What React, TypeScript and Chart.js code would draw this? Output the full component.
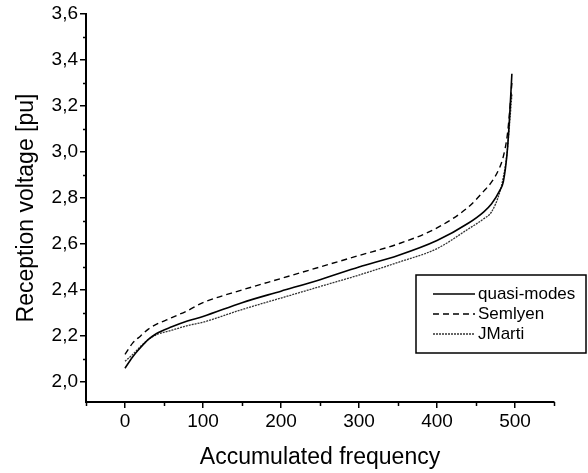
import React, { useEffect, useRef } from 'react';
import { Chart, registerables } from 'chart.js';

Chart.register(...registerables);

// ---- data ----
const frequency = [0, 10, 20, 30, 40, 60, 80, 100, 150, 200, 250, 300, 350, 400, 440, 460, 470, 480, 485, 490, 493, 496];
const quasiModes = [2.06, 2.11, 2.15, 2.185, 2.21, 2.24, 2.265, 2.285, 2.345, 2.395, 2.445, 2.5, 2.55, 2.615, 2.69, 2.74, 2.775, 2.83, 2.87, 3.0, 3.15, 3.34];
const semlyen = [2.12, 2.17, 2.2, 2.23, 2.25, 2.28, 2.31, 2.345, 2.4, 2.45, 2.5, 2.55, 2.6, 2.67, 2.76, 2.83, 2.87, 2.93, 2.98, 3.07, 3.17, 3.3];
const jmarti = [2.09, 2.12, 2.155, 2.185, 2.205, 2.225, 2.245, 2.26, 2.315, 2.365, 2.415, 2.465, 2.52, 2.58, 2.665, 2.71, 2.74, 2.82, 2.89, 3.0, 3.12, 3.25];

const seriesLabels = ['quasi-modes', 'Semlyen', 'JMarti'];
const yTickValues = [2.0, 2.2, 2.4, 2.6, 2.8, 3.0, 3.2, 3.4, 3.6];
const yMinorTicks = [2.1, 2.3, 2.5, 2.7, 2.9, 3.1, 3.3, 3.5];
const xTickValues = [0, 100, 200, 300, 400, 500];
const xMinorTicks = [-50, 50, 150, 250, 350, 450, 550];

const FONT = "'Liberation Sans', Arial, Helvetica, sans-serif";

const minorTickPlugin = {
  id: 'minorTicks',
  afterDraw(chart: any) {
    const ctx = chart.ctx;
    const xs = chart.scales.x;
    const ys = chart.scales.y;
    ctx.save();
    ctx.strokeStyle = '#000';
    ctx.lineWidth = 1.5;
    ctx.beginPath();
    yMinorTicks.forEach((v) => {
      const py = Math.round(ys.getPixelForValue(v)) + 0.5;
      ctx.moveTo(xs.left - 3, py);
      ctx.lineTo(xs.left, py);
    });
    xMinorTicks.forEach((v) => {
      const px = Math.round(xs.getPixelForValue(v)) + 0.5;
      ctx.moveTo(px, ys.bottom);
      ctx.lineTo(px, ys.bottom + 4);
    });
    ctx.stroke();
    ctx.restore();
  },
};

const boxLegendPlugin = {
  id: 'boxLegend',
  afterDraw(chart: any) {
    const ctx = chart.ctx;
    const left = 416;
    const top = 275;
    const width = 170;
    const height = 78;
    ctx.save();
    ctx.fillStyle = '#fff';
    ctx.fillRect(left, top, width, height);
    ctx.strokeStyle = '#000';
    ctx.lineWidth = 1.5;
    ctx.setLineDash([]);
    ctx.strokeRect(left, top, width, height);
    ctx.font = `17px ${FONT}`;
    ctx.textBaseline = 'middle';
    ctx.fillStyle = '#000';
    chart.data.datasets.forEach((ds: any, i: number) => {
      const y = top + 19 + i * 20;
      ctx.beginPath();
      ctx.strokeStyle = ds.borderColor;
      ctx.lineWidth = ds.borderWidth;
      ctx.setLineDash(ds.borderDash || []);
      ctx.moveTo(433, y);
      ctx.lineTo(475, y);
      ctx.stroke();
      ctx.setLineDash([]);
      ctx.fillText(ds.label, 478, y);
    });
    ctx.restore();
  },
};

export default function App() {
  const canvasRef = useRef<HTMLCanvasElement | null>(null);

  useEffect(() => {
    const canvas = canvasRef.current;
    if (!canvas) return;
    const toPoints = (vals: number[]) => frequency.map((f, i) => ({ x: f, y: vals[i] }));
    const chart = new Chart(canvas, {
      type: 'line',
      data: {
        datasets: [
          {
            label: seriesLabels[0],
            data: toPoints(quasiModes),
            borderColor: '#000',
            borderWidth: 1.6,
            borderDash: [],
            pointRadius: 0,
            cubicInterpolationMode: 'monotone',
          },
          {
            label: seriesLabels[1],
            data: toPoints(semlyen),
            borderColor: '#000',
            borderWidth: 1.4,
            borderDash: [6, 4],
            pointRadius: 0,
            cubicInterpolationMode: 'monotone',
          },
          {
            label: seriesLabels[2],
            data: toPoints(jmarti),
            borderColor: '#333',
            borderWidth: 1.3,
            borderDash: [2, 1],
            pointRadius: 0,
            cubicInterpolationMode: 'monotone',
          },
        ],
      },
      options: {
        responsive: false,
        animation: false,
        devicePixelRatio: 1,
        layout: { padding: { top: 14, right: 34, bottom: 0, left: 0 } },
        plugins: {
          legend: { display: false },
          tooltip: { enabled: false },
        },
        scales: {
          x: {
            type: 'linear',
            min: -50,
            max: 550,
            afterBuildTicks: (s: any) => {
              s.ticks = xTickValues.map((v) => ({ value: v }));
            },
            afterFit: (s: any) => {
              s.height = 71;
            },
            grid: { drawOnChartArea: false, drawTicks: true, tickLength: 6, color: '#000', lineWidth: 1.5 },
            border: { display: true, color: '#000', width: 2 },
            ticks: {
              color: '#000',
              font: { family: FONT, size: 19 },
              padding: 2,
              maxRotation: 0,
              autoSkip: false,
              callback: (v: any) => String(v),
            },
            title: {
              display: true,
              text: 'Accumulated frequency',
              color: '#000',
              font: { family: FONT, size: 23 },
              padding: { top: 0, bottom: 2 },
            },
          },
          y: {
            type: 'linear',
            min: 1.913,
            max: 3.6,
            afterBuildTicks: (s: any) => {
              s.ticks = yTickValues.map((v) => ({ value: v }));
            },
            afterFit: (s: any) => {
              s.width = 86;
            },
            grid: { drawOnChartArea: false, drawTicks: true, tickLength: 6, color: '#000', lineWidth: 1.5 },
            border: { display: true, color: '#000', width: 2 },
            ticks: {
              color: '#000',
              font: { family: FONT, size: 19 },
              padding: 2,
              autoSkip: false,
              callback: (v: any) => Number(v).toFixed(1).replace('.', ','),
            },
            title: {
              display: true,
              text: 'Reception voltage [pu]',
              color: '#000',
              font: { family: FONT, size: 23 },
              padding: { top: 13, bottom: 0 },
            },
          },
        },
      },
      plugins: [minorTickPlugin, boxLegendPlugin],
    } as any);
    return () => chart.destroy();
  }, []);

  return (
    <div style={{ position: 'absolute', left: 0, top: 0, width: 588, height: 473, background: '#fff' }}>
      <canvas ref={canvasRef} width={588} height={473} style={{ display: 'block' }} />
    </div>
  );
}
